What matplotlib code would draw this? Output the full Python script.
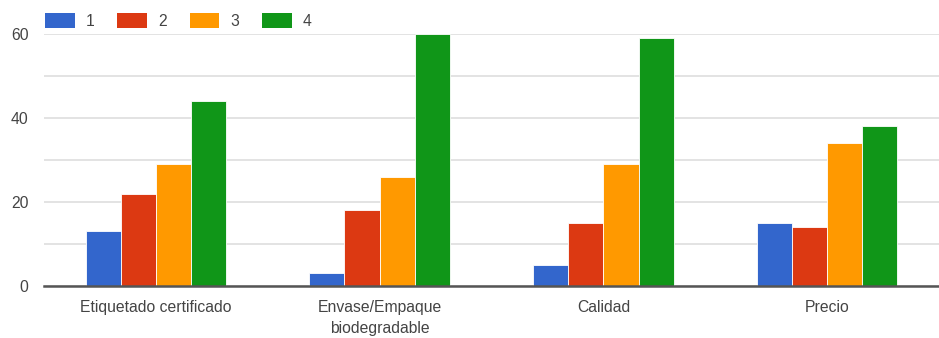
import matplotlib.pyplot as plt
import numpy as np
from matplotlib.patches import Patch

plt.rcParams['font.family'] = ['Liberation Sans', 'DejaVu Sans']

# Datos
categorias = ["Etiquetado certificado", "Envase/Empaque\nbiodegradable", "Calidad", "Precio"]
series = ["1", "2", "3", "4"]
valores_1 = [13, 3, 5, 15]
valores_2 = [22, 18, 15, 14]
valores_3 = [29, 26, 29, 34]
valores_4 = [44, 60, 59, 38]
colores = ["#3366cc", "#dc3912", "#ff9900", "#109618"]

valores = [valores_1, valores_2, valores_3, valores_4]

fig = plt.figure(figsize=(9.39, 3.38), dpi=100)
ax = fig.add_axes([44 / 939, 52 / 338, 1 - 44 / 939, 252 / 338])

x = np.arange(len(categorias))
ancho = 0.157
for i, (serie, vals) in enumerate(zip(series, valores)):
    ax.bar(x + (i - 1.5) * ancho, vals, width=ancho, color=colores[i],
           edgecolor="white", linewidth=0.6, label=serie, zorder=3)

ax.set_xlim(-0.5, len(categorias) - 0.5)
ax.set_ylim(0, 60)
ax.set_yticks([0, 20, 40, 60])
ax.set_yticks([10, 30, 50], minor=True)
ax.grid(axis="y", which="both", color="#e0e0e0", linewidth=1.3, zorder=0)
ax.set_xticks(x)
ax.set_xticklabels(categorias, linespacing=1.55)
ax.tick_params(axis="both", which="both", length=0, labelsize=11.3, labelcolor="#444444")
ax.tick_params(axis="y", pad=11)
ax.tick_params(axis="x", pad=10)
for lado in ["top", "right", "left"]:
    ax.spines[lado].set_visible(False)
ax.spines["bottom"].set_color("#555555")
ax.spines["bottom"].set_linewidth(1.8)
ax.spines["bottom"].set_zorder(4)

handles = [Patch(facecolor=c, edgecolor="none") for c in colores]
fig.legend(handles, series, loc="center left", bbox_to_anchor=(45 / 939, 1 - 21 / 338),
           ncol=4, frameon=False, fontsize=11.3, labelcolor="#444444",
           borderpad=0, borderaxespad=0,
           handlelength=1.9, handleheight=1.1, handletextpad=0.7, columnspacing=1.45)

fig.savefig("out.png", dpi=100)
